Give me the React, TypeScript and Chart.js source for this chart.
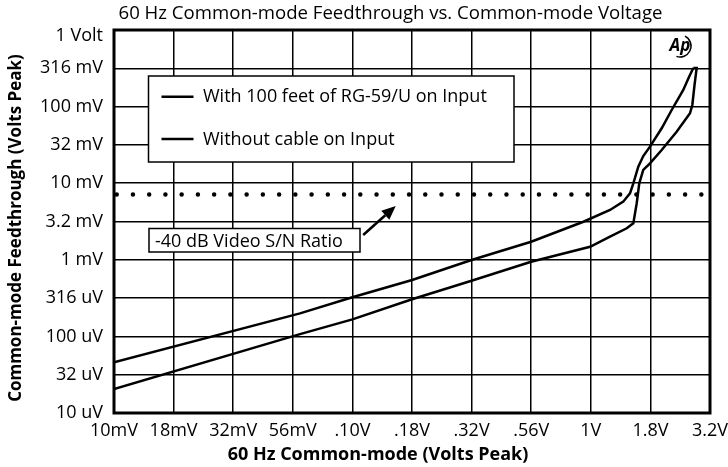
import React, { useEffect, useRef } from "react";
import { Chart, registerables } from "chart.js";

Chart.register(...registerables);

const CHART_TITLE = "60 Hz Common-mode Feedthrough vs. Common-mode Voltage";
const X_TITLE = "60 Hz Common-mode (Volts Peak)";
const Y_TITLE = "Common-mode Feedthrough (Volts Peak)";

const X_TICK_VALUES = [0.01, 0.017783, 0.031623, 0.056234, 0.1, 0.17783, 0.31623, 0.56234, 1, 1.7783, 3.1623];
const X_TICK_LABELS = ["10mV", "18mV", "32mV", "56mV", ".10V", ".18V", ".32V", ".56V", "1V", "1.8V", "3.2V"];
const Y_TICK_VALUES = [1e-5, 3.1623e-5, 1e-4, 3.1623e-4, 1e-3, 3.1623e-3, 0.01, 0.031623, 0.1, 0.31623, 1];
const Y_TICK_LABELS = ["10 uV", "32 uV", "100 uV", "316 uV", "1 mV", "3.2 mV", "10 mV", "32 mV", "100 mV", "316 mV", "1 Volt"];

const SERIES_NAMES = ["With 100 feet of RG-59/U on Input", "Without cable on Input"];

const WITH_CABLE_X = [0.01, 0.0603, 0.1, 0.178, 0.316, 0.562, 0.931, 1.204, 1.368, 1.46, 1.508, 1.582, 1.66, 1.771, 1.983, 2.184, 2.443, 2.582, 2.691];
const WITH_CABLE_Y = [4.59e-5, 2.0e-4, 3.24e-4, 5.45e-4, 9.94e-4, 1.72e-3, 3.14e-3, 4.47e-3, 5.74e-3, 7.38e-3, 9.97e-3, 0.0164, 0.0226, 0.03, 0.0521, 0.0903, 0.165, 0.243, 0.319];

const NO_CABLE_X = [0.01, 0.0603, 0.1, 0.178, 0.316, 0.562, 0.993, 1.204, 1.415, 1.508, 1.558, 1.597, 1.66, 1.771, 1.983, 2.291, 2.607, 2.666, 2.723, 2.78, 2.691];
const NO_CABLE_Y = [2.06e-5, 1.07e-4, 1.67e-4, 3.05e-4, 5.33e-4, 9.44e-4, 1.48e-3, 2.0e-3, 2.58e-3, 2.99e-3, 5.47e-3, 9.97e-3, 0.0149, 0.0182, 0.0271, 0.047, 0.0818, 0.105, 0.191, 0.319, 0.319];

const SN_LABEL = "-40 dB Video S/N Ratio";
const SN_LEVEL = 7.14e-3;
const SN_X = [0.01, 3.1623];
const ARROW_FROM = [0.111, 2.11e-3];
const ARROW_TO = [0.152, 5.04e-3];

const FONT = "'Open Sans', 'DejaVu Sans', sans-serif";

const overlayPlugin = {
  id: "overlay",
  afterDatasetsDraw(chart: any) {
    const { ctx, chartArea: a, scales } = chart;
    const xs = scales.x;
    const ys = scales.y;
    ctx.save();

    // Legend box
    ctx.fillStyle = "#fff";
    ctx.strokeStyle = "#000";
    ctx.lineWidth = 1.5;
    ctx.fillRect(148.5, 76, 365.5, 86);
    ctx.strokeRect(148.5, 76, 365.5, 86);
    ctx.fillStyle = "#000";
    ctx.font = `18px ${FONT}`;
    ctx.textAlign = "left";
    ctx.textBaseline = "alphabetic";
    const names = chart.data.datasets.slice(0, 2).map((d: any) => d.label);
    const rowsY = [96.7, 139];
    names.forEach((n: string, i: number) => {
      ctx.lineWidth = 2.5;
      ctx.beginPath();
      ctx.moveTo(161.5, rowsY[i]);
      ctx.lineTo(193.5, rowsY[i]);
      ctx.stroke();
      ctx.fillText(n, 203, rowsY[i] + 5.5);
    });

    // Annotation box
    ctx.lineWidth = 1.5;
    ctx.fillStyle = "#fff";
    ctx.fillRect(149, 228.5, 211, 23.5);
    ctx.strokeRect(149, 228.5, 211, 23.5);
    ctx.fillStyle = "#000";
    ctx.fillText(SN_LABEL, 155, 247);

    // Arrow
    const x0 = xs.getPixelForValue(ARROW_FROM[0]);
    const y0 = ys.getPixelForValue(ARROW_FROM[1]);
    const x1 = xs.getPixelForValue(ARROW_TO[0]);
    const y1 = ys.getPixelForValue(ARROW_TO[1]);
    const ang = Math.atan2(y1 - y0, x1 - x0);
    const hl = 14;
    const hw = 6;
    const bx = x1 - hl * Math.cos(ang);
    const by = y1 - hl * Math.sin(ang);
    ctx.lineWidth = 2.5;
    ctx.beginPath();
    ctx.moveTo(x0, y0);
    ctx.lineTo(bx, by);
    ctx.stroke();
    ctx.beginPath();
    ctx.moveTo(x1, y1);
    ctx.lineTo(bx + hw * Math.sin(ang), by - hw * Math.cos(ang));
    ctx.lineTo(bx - hw * Math.sin(ang), by + hw * Math.cos(ang));
    ctx.closePath();
    ctx.fill();

    // Logo
    ctx.font = `italic bold 17px ${FONT}`;
    ctx.textAlign = "center";
    ctx.textBaseline = "middle";
    ctx.fillText("Ap", 680, 46);
    ctx.lineWidth = 1.5;
    ctx.beginPath();
    ctx.arc(680, 46, 11, -1.1, 1.9);
    ctx.stroke();

    // Frame
    ctx.lineWidth = 3;
    ctx.strokeStyle = "#000";
    ctx.strokeRect(a.left, a.top, a.right - a.left, a.bottom - a.top);

    // Titles
    ctx.fillStyle = "#000";
    ctx.textAlign = "center";
    ctx.textBaseline = "alphabetic";
    ctx.font = `18.6px ${FONT}`;
    ctx.fillText(CHART_TITLE, 390.5, 19);
    ctx.font = `bold 18px ${FONT}`;
    ctx.fillText(X_TITLE, 378, 460);
    ctx.font = `bold 17px ${FONT}`;
    ctx.translate(16, 228);
    ctx.rotate(-Math.PI / 2);
    ctx.textBaseline = "middle";
    ctx.fillText(Y_TITLE, 0, 0);
    ctx.restore();
  },
};

function toPoints(xv: number[], yv: number[]) {
  return xv.map((x, i) => ({ x, y: yv[i] }));
}

export default function App() {
  const ref = useRef<HTMLCanvasElement | null>(null);
  useEffect(() => {
    if (!ref.current) return;
    const lastY = Y_TICK_LABELS.length - 1;
    const chart = new Chart(ref.current, {
      type: "line",
      data: {
        datasets: [
          {
            label: SERIES_NAMES[0],
            data: toPoints(WITH_CABLE_X, WITH_CABLE_Y),
            borderColor: "#000",
            borderWidth: 2.5,
            pointRadius: 0,
            tension: 0,
            fill: false,
          },
          {
            label: SERIES_NAMES[1],
            data: toPoints(NO_CABLE_X, NO_CABLE_Y),
            borderColor: "#000",
            borderWidth: 2.5,
            pointRadius: 0,
            tension: 0,
            fill: false,
          },
          {
            label: SN_LABEL,
            data: toPoints(SN_X, SN_X.map(() => SN_LEVEL)),
            borderColor: "#000",
            borderWidth: 4.5,
            borderDash: [0, 16.24],
            borderDashOffset: 13.54,
            borderCapStyle: "round",
            pointRadius: 0,
            fill: false,
          },
        ],
      },
      options: {
        responsive: false,
        animation: false,
        devicePixelRatio: 1,
        layout: { padding: { top: 30, right: 18, bottom: 0, left: 0 } },
        plugins: {
          legend: { display: false },
          title: { display: false },
          tooltip: { enabled: false },
        },
        scales: {
          x: {
            type: "logarithmic",
            min: X_TICK_VALUES[0],
            max: X_TICK_VALUES[X_TICK_VALUES.length - 1],
            afterBuildTicks: (s: any) => {
              s.ticks = X_TICK_VALUES.map((v) => ({ value: v }));
            },
            afterFit: (s: any) => {
              s.height = 54;
              s.paddingLeft = 0;
              s.paddingRight = 0;
            },
            ticks: {
              autoSkip: false,
              maxRotation: 0,
              minRotation: 0,
              padding: 7,
              color: "#000",
              font: { family: FONT, size: 18 },
              callback: (_v: any, i: number) => X_TICK_LABELS[i],
            },
            grid: { color: "#000", lineWidth: 1.5, drawTicks: false },
            border: { display: false },
          },
          y: {
            type: "logarithmic",
            min: Y_TICK_VALUES[0],
            max: Y_TICK_VALUES[Y_TICK_VALUES.length - 1],
            afterBuildTicks: (s: any) => {
              s.ticks = Y_TICK_VALUES.map((v) => ({ value: v }));
            },
            afterFit: (s: any) => {
              s.width = 114;
              s.paddingTop = 0;
              s.paddingBottom = 0;
            },
            ticks: {
              autoSkip: false,
              padding: 11,
              color: "#000",
              font: (c: any) =>
                c.index === lastY
                  ? { family: FONT, size: 18, lineHeight: "12px" }
                  : { family: FONT, size: 18 },
              callback: (_v: any, i: number) =>
                i === lastY ? ["", Y_TICK_LABELS[i]] : Y_TICK_LABELS[i],
            },
            grid: { color: "#000", lineWidth: 1.5, drawTicks: false },
            border: { display: false },
          },
        },
      },
      plugins: [overlayPlugin],
    } as any);
    return () => chart.destroy();
  }, []);
  return (
    <canvas
      ref={ref}
      width={728}
      height={467}
      style={{ position: "absolute", left: 0, top: 0, display: "block" }}
    />
  );
}
